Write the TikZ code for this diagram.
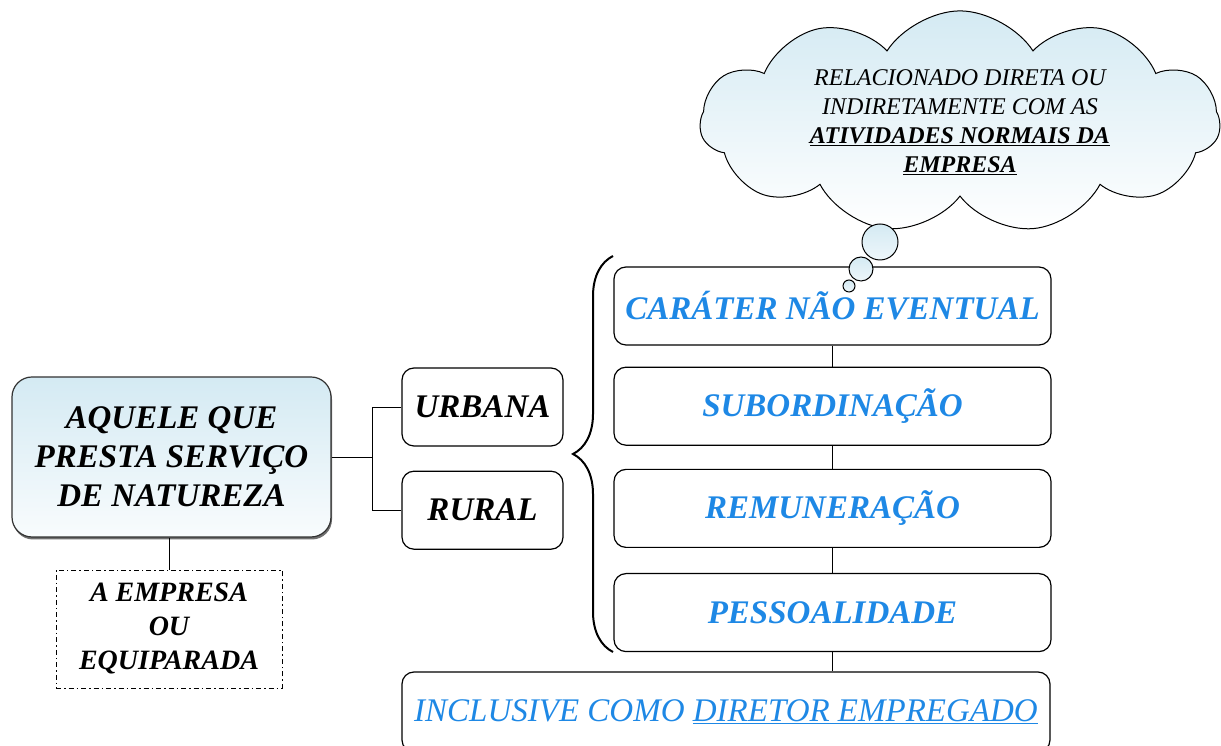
\documentclass[tikz,border=0pt]{standalone}
\usepackage{fontspec}
\setmainfont{Liberation Serif}
\usetikzlibrary{positioning,shapes.symbols,decorations.pathreplacing,shadows}
\definecolor{itemblue}{RGB}{30,136,229}
\definecolor{boxblue}{RGB}{212,234,243}

\begin{document}
\begin{tikzpicture}[x=1pt, y=1pt, line width=1.2pt,
        box/.style = {draw=black, rounded corners=12pt, align=center, inner sep=0pt, font=\fontsize{33}{39}\selectfont\bfseries\itshape},
        mainbox/.style = {box, rounded corners=20pt, draw=black!80, top color=boxblue, bottom color=white!85!boxblue,
                drop shadow={shadow xshift=1pt, shadow yshift=-2.5pt, fill=black!70, opacity=.8}},
        sidebox/.style = {box, minimum width=161pt, minimum height=78pt},
        itembox/.style = {box, text=itemblue, minimum width=437pt, minimum height=78pt},
        notebox/.style = {draw, line width=0.9pt, dash pattern=on 5pt off 3pt on 1.5pt off 3pt, align=center,
                minimum width=226pt, minimum height=118pt, inner sep=0pt, font=\fontsize{28}{34}\selectfont\bfseries\itshape},
        thought/.style = {cloud, draw, line width=1pt, cloud puffs=11, cloud puff arc=115, aspect=2.6, inner sep=0pt,
                minimum width=520pt, minimum height=200pt, top color=boxblue, bottom color=white, align=center,
                font=\fontsize{24}{29}\selectfont\itshape},
        bubble/.style = {circle, draw, line width=1pt, top color=boxblue, bottom color=white!60!boxblue, inner sep=0pt},
        link/.style = {draw, line width=0.9pt}]
    \useasboundingbox (0,0) rectangle (1221,746);

    % left part
    \node[mainbox, minimum width=319pt, minimum height=160pt] (serv) at (171.5,289) {AQUELE QUE\\PRESTA SERVIÇO\\DE NATUREZA};
    \node[notebox] (emp) at (169,117) {A EMPRESA\\OU\\EQUIPARADA};
    \node[sidebox] (urb) at (482.5,339) {URBANA};
    \node[sidebox, below=24pt of urb] (rur) {RURAL};

    % right column
    \node[itembox] (car) at (832.5,440) {CARÁTER NÃO EVENTUAL};
    \node[itembox, below=21pt of car] (sub) {SUBORDINAÇÃO};
    \node[itembox, below=23pt of sub] (rem) {REMUNERAÇÃO};
    \node[itembox, below=25pt of rem] (pes) {PESSOALIDADE};
    \node[itembox, minimum width=648pt, minimum height=80pt, font=\fontsize{33}{39}\selectfont\itshape] (inc) at (726,34)
        {INCLUSIVE COMO \underline{DIRETOR EMPREGADO}};

    % thought cloud
    \node[thought] (nota) at (960,624) {RELACIONADO DIRETA OU\\INDIRETAMENTE COM AS\\
        \textbf{\underline{ATIVIDADES NORMAIS DA}}\\\textbf{\underline{EMPRESA}}};
    \node[bubble, minimum size=36pt] (b1) at (880,504) {};
    \node[bubble, minimum size=24pt] (b2) at (861,477) {};
    \node[bubble, minimum size=12pt] (b3) at (849,460) {};

    % connectors
    \draw[link] (serv.east) -- ++(41,0) coordinate (fork) |- (urb.west);
    \draw[link] (fork) |- (rur.west);
    \draw[link] (emp.north |- serv.south) -- (emp.north);
    \draw[link] (car.south) -- (sub.north);
    \draw[link] (sub.south) -- (rem.north);
    \draw[link] (rem.south) -- (pes.north);
    \draw[link] (pes.south) -- (pes.south |- inc.north);

    % brace
    \coordinate (bbot) at (613,94);
    \coordinate (btop) at (613,490);
    \draw[decorate, decoration={brace, amplitude=40pt}, line width=2pt] (bbot) -- (btop);
\end{tikzpicture}
\end{document}
